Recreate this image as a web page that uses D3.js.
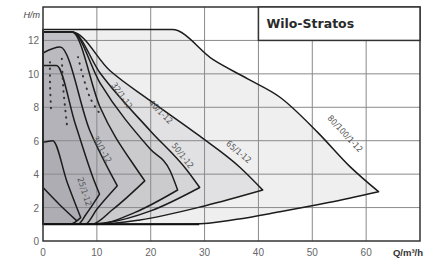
<!DOCTYPE html>
<html>
<head>
<meta charset="utf-8">
<script src="https://cdn.jsdelivr.net/npm/d3@7"></script>
<style>
  body { margin: 0; background: #fff; }
  svg { display: block; }
  .grid line { stroke: #8a8a8a; stroke-width: 1; }
  .tick-label { font-family: "Liberation Sans", sans-serif; font-size: 10px; fill: #666; }
  .pump { fill: #8c8c96; fill-opacity: 0.14; stroke: #1c1c1c; stroke-width: 1.5; stroke-linejoin: round; }
  .dots { fill: none; stroke: #333; stroke-width: 2; stroke-dasharray: 0.5,6; stroke-linecap: round; }
  .curve-label { font-family: "DejaVu Sans Condensed", sans-serif; font-size: 8.5px; fill: #555; }
</style>
</head>
<body>
<svg id="chart" width="425" height="264"></svg>
<script>
// ---- data (Q in m3/h, H in m)
var qTicks = [0, 10, 20, 30, 40, 50, 60];
var hTicks = [0, 2, 4, 6, 8, 10, 12];

var pump80Max = [[0,12.65],[24,12.65],[31.6,10.85],[38,9.7],[44,8.6],[51,6.5],[57,4.45],[62.3,2.95]];
var pump80Min = [[62.3,2.95],[53,2.3],[44,1.75],[36,1.3],[28,1.02],[0,1.0]];
var pump65Max = [[0,12.5],[5.4,12.5],[12.4,10.2],[19.9,8.4],[29,6.3],[36.6,4.4],[40.8,3.05]];
var pump65Min = [[40.8,3.05],[30,2.1],[18,1.26],[10,1.0],[0,1.0]];
var pump50Max = [[0,12.5],[5.4,12.5],[10.6,10.05],[19.9,6.6],[26.7,4.25],[29.1,3.2]];
var pump50Min = [[29.1,3.2],[20,1.8],[12,1.1],[8,1.0],[0,1.0]];
var pump40Max = [[0,12.5],[5.4,12.5],[10.6,9.45],[19.9,5.5],[23.6,4.2],[25,3.05]];
var pump40Min = [[25,3.05],[17,1.7],[10,1.0],[0,1.0]];
var pump32Max = [[0,12.5],[5.4,12.5],[10.6,8.0],[17.5,4.25],[18.9,3.6]];
var pump32Min = [[18.9,3.6],[13,1.9],[9,1.0],[0,1.0]];
var pump30Max = [[0,11.25],[3.2,11.6],[8.7,6.6],[12.8,3.9],[13.8,3.3]];
var pump30Min = [[13.8,3.3],[10,1.9],[7.8,1.0],[0,1.0]];
var pump25Max = [[0,10.5],[2.5,10.5],[6,7.0],[9.5,3.6],[10.5,2.8]];
var pump25Min = [[10.5,2.8],[8,1.6],[6.5,1.0],[0,1.0]];
var pump6Max = [[0,5.9],[1.8,6.0],[4.5,3.5],[7,1.4]];
var pump6Min = [[7,1.4],[5,1.0],[0,1.0]];
var lowCurve = [[0,3.2],[3,2.2],[6.3,1.2]];

var dotted1 = [[1.3,10.7],[1.3,9.5],[1.5,7.8]];
var dotted2 = [[3.5,10.9],[3.8,9.0],[4.5,6.8]];
var dotted3 = [[6.5,11],[8.7,8.6],[10.6,7.6]];

var pumpNames = ["80/100/1-12", "65/1-12", "50/1-12", "40/1-12", "32/1-12", "30/1-12", "25/1-12"];
var labelAt = [[55.7,6.3], [36,5.2], [25.5,5.0], [21.5,7.6], [14.2,8.6], [10.5,5.4], [7.2,2.9]];
var labelAngle = [47, 40, 52, 45, 55, 60, 72];

// ---- layout
var svg = d3.select("#chart");
var x = d3.scaleLinear().domain([0, 70]).range([43, 420]);
var y = d3.scaleLinear().domain([0, 14]).range([241, 7]);

var line = d3.line()
    .x(function(d) { return x(d[0]); })
    .y(function(d) { return y(d[1]); })
    .curve(d3.curveMonotoneX);

var dotLine = d3.line()
    .x(function(d) { return x(d[0]); })
    .y(function(d) { return y(d[1]); })
    .curve(d3.curveCatmullRom);

// grid
var grid = svg.append("g").attr("class", "grid");
grid.selectAll(".v").data(qTicks.slice(1)).enter().append("line")
    .attr("x1", function(d) { return x(d); }).attr("x2", function(d) { return x(d); })
    .attr("y1", y(14)).attr("y2", y(0));
grid.selectAll(".h").data(hTicks.slice(1)).enter().append("line")
    .attr("x1", x(0)).attr("x2", x(70))
    .attr("y1", function(d) { return y(d); }).attr("y2", function(d) { return y(d); });

// pump fields
var pumps = [
  [pump80Max, pump80Min], [pump65Max, pump65Min], [pump50Max, pump50Min],
  [pump40Max, pump40Min], [pump32Max, pump32Min], [pump30Max, pump30Min],
  [pump25Max, pump25Min], [pump6Max, pump6Min]
];
svg.append("g").selectAll("path")
  .data(pumps)
  .enter().append("path")
    .attr("class", "pump")
    .attr("d", function(p) { return line(p[0]) + line(p[1]).replace(/^M/, "L") + "Z"; });

svg.append("path").datum(lowCurve)
    .attr("fill", "none").attr("stroke", "#1c1c1c").attr("stroke-width", 1.5)
    .attr("d", line);

svg.append("g").selectAll("path")
  .data([dotted1, dotted2, dotted3])
  .enter().append("path")
    .attr("class", "dots")
    .attr("d", dotLine);

// minimum line at H = 1
svg.append("line")
    .attr("x1", x(0)).attr("x2", x(29))
    .attr("y1", y(1)).attr("y2", y(1))
    .attr("stroke", "#111").attr("stroke-width", 2);

// curve labels
svg.append("g").selectAll("text")
  .data(pumpNames)
  .enter().append("text")
    .attr("class", "curve-label")
    .attr("text-anchor", "middle")
    .attr("transform", function(d, i) {
      return "translate(" + x(labelAt[i][0]) + "," + y(labelAt[i][1]) + ") rotate(" + labelAngle[i] + ")";
    })
    .text(function(d) { return d; });

// frame
svg.append("rect")
    .attr("x", x(0)).attr("y", y(14))
    .attr("width", x(70) - x(0)).attr("height", y(0) - y(14))
    .attr("fill", "none").attr("stroke", "#333").attr("stroke-width", 1.5);

// title box
svg.append("rect")
    .attr("x", x(40)).attr("y", y(14))
    .attr("width", x(70) - x(40)).attr("height", y(12) - y(14))
    .attr("fill", "#fff").attr("stroke", "#333").attr("stroke-width", 1.5);
svg.append("text")
    .attr("x", x(40) + 8).attr("y", 28)
    .attr("font-family", "DejaVu Sans, sans-serif").attr("font-size", 12.5)
    .attr("font-weight", "bold").attr("fill", "#2a2a2a")
    .text("Wilo-Stratos");

// tick labels
svg.append("g").selectAll("text")
  .data(hTicks)
  .enter().append("text")
    .attr("class", "tick-label")
    .attr("text-anchor", "end")
    .attr("x", 39).attr("y", function(d) { return y(d) + 4; })
    .text(function(d) { return d; });

svg.append("g").selectAll("text")
  .data(qTicks)
  .enter().append("text")
    .attr("class", "tick-label")
    .attr("text-anchor", "middle")
    .attr("x", function(d) { return x(d); }).attr("y", 256)
    .text(function(d) { return d; });

svg.append("text")
    .attr("x", 40).attr("y", 18).attr("text-anchor", "end")
    .attr("font-family", "Liberation Sans, sans-serif").attr("font-size", 9)
    .attr("font-style", "italic").attr("fill", "#444")
    .text("H/m");

svg.append("text")
    .attr("x", 423).attr("y", 256).attr("text-anchor", "end")
    .attr("font-family", "Liberation Sans, sans-serif").attr("font-size", 9.5)
    .attr("font-weight", "bold").attr("fill", "#333")
    .text("Q/m³/h");
</script>
</body>
</html>
